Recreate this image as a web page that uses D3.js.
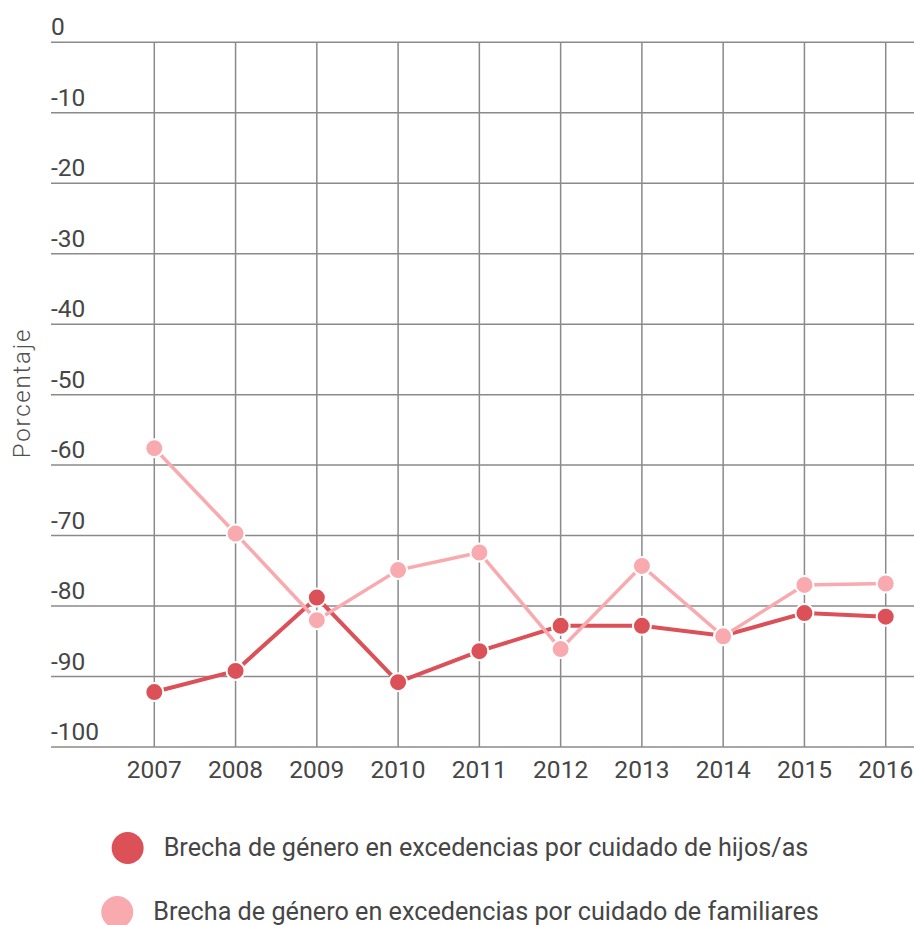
<!DOCTYPE html>
<html>
<head>
<meta charset="utf-8">
<script src="https://cdn.jsdelivr.net/npm/d3@7"></script>
<style>
  body { margin: 0; background: #fff; }
  text { font-family: Roboto, "Open Sans", sans-serif; fill: #464646; }
</style>
</head>
<body>
<svg id="chart"></svg>
<script>
const years = [2007, 2008, 2009, 2010, 2011, 2012, 2013, 2014, 2015, 2016];
const hijos = [-92.2, -89.2, -78.8, -90.8, -86.4, -82.8, -82.8, -84.2, -81.0, -81.5];
const familiares = [-57.6, -69.7, -82.0, -74.9, -72.4, -86.1, -74.3, -84.3, -77.0, -76.8];
const yTicks = [0, -10, -20, -30, -40, -50, -60, -70, -80, -90, -100];
const seriesNames = [
  "Brecha de género en excedencias por cuidado de hijos/as",
  "Brecha de género en excedencias por cuidado de familiares"
];
const colors = ["#db5157", "#f9aaae"];

const width = 914, height = 925;
const gridLeft = 51, gridRight = 914;

var chart = d3.select("#chart")
    .attr("width", width)
    .attr("height", height);

const x = d3.scaleLinear()
    .domain([2007, 2016])
    .range([154.3, 885.7]);

const y = d3.scaleLinear()
    .domain([-100, 0])
    .range([747, 42.3]);

// horizontal grid + tick labels
chart.append("g")
    .selectAll("line")
    .data(yTicks)
    .join("line")
    .attr("x1", gridLeft)
    .attr("x2", gridRight)
    .attr("y1", d => y(d))
    .attr("y2", d => y(d))
    .attr("stroke", "#8a8a8a")
    .attr("stroke-width", 1.5);

chart.append("g")
    .selectAll("text")
    .data(yTicks)
    .join("text")
    .attr("x", gridLeft)
    .attr("y", d => y(d) - 7)
    .style("font-size", "24.5px")
    .text(d => d);

// vertical grid
chart.append("g")
    .selectAll("line")
    .data(years)
    .join("line")
    .attr("x1", d => x(d))
    .attr("x2", d => x(d))
    .attr("y1", y(0))
    .attr("y2", y(-100))
    .attr("stroke", "#8a8a8a")
    .attr("stroke-width", 1.5);

chart.append("g")
    .selectAll("text")
    .data(years)
    .join("text")
    .attr("x", d => x(d))
    .attr("y", 778)
    .style("font-size", "24.5px")
    .style("text-anchor", "middle")
    .text(d => d);

// axis title
chart.append("text")
    .attr("transform", "translate(30,393) rotate(-90)")
    .style("font-size", "24px")
    .style("font-weight", 300)
    .style("letter-spacing", "1.8px")
    .style("fill", "#505050")
    .style("text-anchor", "middle")
    .text("Porcentaje");

const line = d3.line()
    .x((d, i) => x(years[i]))
    .y(d => y(d));

[hijos, familiares].forEach((vals, k) => {
    chart.append("path")
        .datum(vals)
        .attr("d", line)
        .attr("fill", "none")
        .attr("stroke", colors[k])
        .attr("stroke-width", k == 0 ? 4 : 3.5);

    chart.append("g")
        .selectAll("circle")
        .data(vals)
        .join("circle")
        .attr("cx", (d, i) => x(years[i]))
        .attr("cy", d => y(d))
        .attr("r", 9)
        .attr("fill", colors[k])
        .attr("stroke", "#fff")
        .attr("stroke-width", 2);
});

// legend
const legendY = [848, 912];
seriesNames.forEach((name, k) => {
    var g = chart.append("g");
    g.append("circle")
        .attr("cx", 0)
        .attr("cy", legendY[k])
        .attr("r", 16)
        .attr("fill", colors[k]);
    var t = g.append("text")
        .attr("x", 36)
        .attr("y", legendY[k] + 8)
        .style("font-size", "25.2px")
        .text(name);
    var w = 16 + 36 + t.node().getComputedTextLength();
    g.attr("transform", "translate(" + (460 - w / 2 + 16) + ",0)");
});
</script>
</body>
</html>
